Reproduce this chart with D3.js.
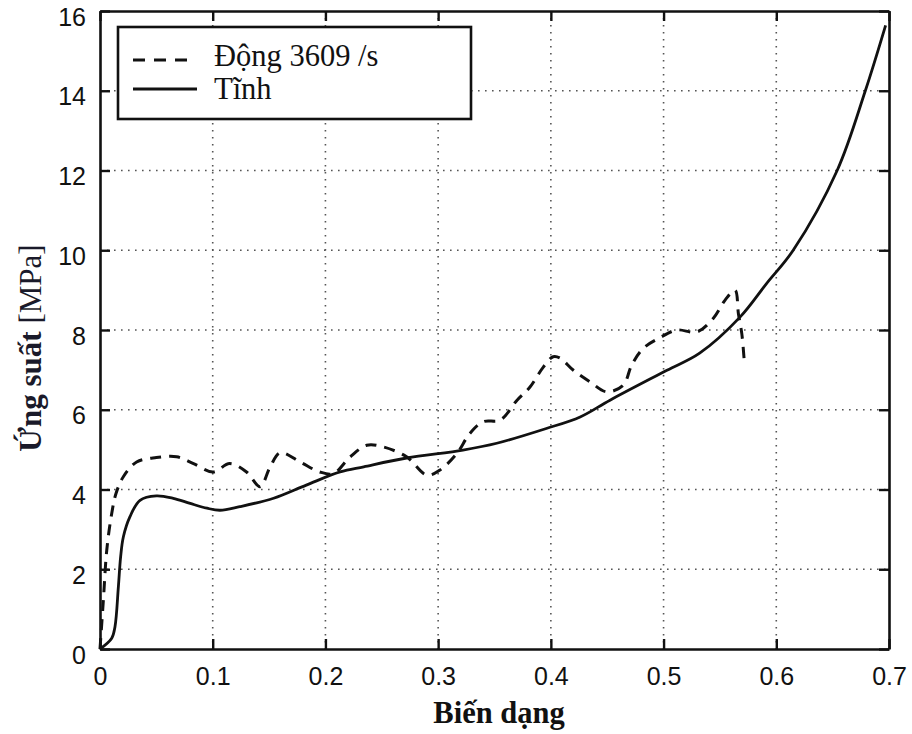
<!DOCTYPE html>
<html>
<head>
<meta charset="utf-8">
<script src="https://cdn.jsdelivr.net/npm/d3@7"></script>
<style>
  body { margin: 0; background: #fff; }
  #chart svg { display: block; }
  .tick text { font-family: "Liberation Sans", Arial, sans-serif; font-size: 25px; fill: #111; }
</style>
</head>
<body>
<div id="chart"></div>
<script>
// strain / stress
const staticStrain = [0, 0.0104, 0.0133, 0.0163, 0.0183, 0.0207, 0.0266, 0.0355, 0.05, 0.065, 0.08, 0.095, 0.1065, 0.124, 0.154, 0.183, 0.213, 0.234, 0.272, 0.322, 0.352, 0.396, 0.426, 0.4525, 0.503, 0.532, 0.568, 0.5915, 0.615, 0.654, 0.679, 0.697];
const staticStress = [0, 0.27, 0.56, 1.56, 2.31, 2.81, 3.32, 3.73, 3.84, 3.78, 3.65, 3.53, 3.48, 3.57, 3.78, 4.11, 4.44, 4.57, 4.79, 4.99, 5.16, 5.53, 5.82, 6.24, 6.99, 7.42, 8.33, 9.17, 10.0, 12.0, 14.0, 15.64];

const dynStrain = [0, 0.003, 0.006, 0.0104, 0.0142, 0.0207, 0.0325, 0.05, 0.068, 0.083, 0.1005, 0.115, 0.13, 0.142, 0.151, 0.16, 0.1775, 0.195, 0.207, 0.222, 0.2366, 0.251, 0.272, 0.29, 0.3017, 0.3165, 0.328, 0.34, 0.355, 0.37, 0.3815, 0.3933, 0.402, 0.408, 0.42, 0.4348, 0.4496, 0.4643, 0.4717, 0.482, 0.497, 0.5117, 0.5294, 0.544, 0.5546, 0.5634, 0.5664, 0.5694, 0.5714];
const dynStress = [0, 1.23, 2.48, 3.4, 3.9, 4.32, 4.69, 4.80, 4.82, 4.65, 4.44, 4.65, 4.44, 4.07, 4.57, 4.92, 4.69, 4.44, 4.4, 4.82, 5.11, 5.07, 4.82, 4.36, 4.49, 4.9, 5.4, 5.7, 5.74, 6.24, 6.57, 7.07, 7.33, 7.3, 6.99, 6.7, 6.45, 6.62, 7.12, 7.54, 7.81, 8.0, 7.95, 8.29, 8.75, 9.0, 8.41, 7.91, 7.29];

const xTicks = [0, 0.1, 0.2, 0.3, 0.4, 0.5, 0.6, 0.7];
const yTicks = [0, 2, 4, 6, 8, 10, 12, 14, 16];
const legendLabels = ["Động 3609 /s", "Tĩnh"];

const width = 912, height = 734;
const plotL = 100, plotR = 889, plotT = 11, plotB = 649;

const svg = d3.select("#chart").append("svg")
  .attr("width", width)
  .attr("height", height);

const x = d3.scaleLinear().domain([0, 0.7]).range([plotL, plotR]);
const y = d3.scaleLinear().domain([0, 16]).range([plotB, plotT]);

// dotted grid
const grid = svg.append("g")
  .attr("stroke", "#555")
  .attr("stroke-width", 1.6)
  .attr("stroke-dasharray", "1.6,5.4");
grid.selectAll("line.gx")
  .data(xTicks.slice(1, -1))
  .join("line")
  .attr("x1", d => x(d)).attr("x2", d => x(d))
  .attr("y1", plotT).attr("y2", plotB);
grid.selectAll("line.gy")
  .data(yTicks.slice(1, -1))
  .join("line")
  .attr("y1", d => y(d)).attr("y2", d => y(d))
  .attr("x1", plotL).attr("x2", plotR);

// axes, ticks pointing inwards on all four sides
const fmtX = d => d === 0 ? "0" : d3.format(".1f")(d);
svg.append("g")
  .attr("transform", `translate(0,${plotB})`)
  .call(d3.axisBottom(x).tickValues(xTicks).tickFormat(fmtX).tickSize(-10).tickSizeOuter(0).tickPadding(18));
svg.append("g")
  .attr("transform", `translate(0,${plotT})`)
  .call(d3.axisTop(x).tickValues(xTicks).tickFormat("").tickSize(-10).tickSizeOuter(0));
const yAxisG = svg.append("g")
  .attr("transform", `translate(${plotL},0)`)
  .call(d3.axisLeft(y).tickValues(yTicks).tickSize(-10).tickSizeOuter(0).tickPadding(14));
// labels sit a little below their ticks in the original
yAxisG.selectAll(".tick text").attr("dy", "0.56em");
svg.append("g")
  .attr("transform", `translate(${plotR},0)`)
  .call(d3.axisRight(y).tickValues(yTicks).tickFormat("").tickSize(-10).tickSizeOuter(0));

svg.selectAll(".domain").attr("stroke", "#111").attr("stroke-width", 2.6);
svg.selectAll(".tick line").attr("stroke", "#111").attr("stroke-width", 2.4);

// curves
const line = d3.line()
  .x(d => x(d[0]))
  .y(d => y(d[1]))
  .curve(d3.curveCatmullRom.alpha(0.5));

svg.append("path")
  .datum(d3.zip(staticStrain, staticStress))
  .attr("d", line)
  .attr("fill", "none")
  .attr("stroke", "#111")
  .attr("stroke-width", 2.8);

svg.append("path")
  .datum(d3.zip(dynStrain, dynStress))
  .attr("d", line)
  .attr("fill", "none")
  .attr("stroke", "#111")
  .attr("stroke-width", 3)
  .attr("stroke-dasharray", "11,8");

// legend
const lg = svg.append("g");
lg.append("rect")
  .attr("x", 118).attr("y", 27)
  .attr("width", 353).attr("height", 92)
  .attr("fill", "#fff")
  .attr("stroke", "#111")
  .attr("stroke-width", 2.6);
lg.append("line")
  .attr("x1", 133).attr("x2", 187).attr("y1", 60).attr("y2", 60)
  .attr("stroke", "#111").attr("stroke-width", 3)
  .attr("stroke-dasharray", "12,9");
lg.append("line")
  .attr("x1", 133).attr("x2", 197).attr("y1", 89).attr("y2", 89)
  .attr("stroke", "#111").attr("stroke-width", 3);
lg.selectAll("text")
  .data(legendLabels)
  .join("text")
  .attr("x", 214)
  .attr("y", (d, i) => 66 + i * 33)
  .attr("font-family", "'Liberation Serif', 'Times New Roman', serif")
  .attr("font-size", 30.5)
  .attr("fill", "#111")
  .text(d => d);

// axis titles
svg.append("text")
  .attr("x", 499)
  .attr("y", 723)
  .attr("text-anchor", "middle")
  .attr("font-family", "'Liberation Serif', 'Times New Roman', serif")
  .attr("font-weight", "bold")
  .attr("font-size", 30.5)
  .attr("fill", "#111")
  .text("Biến dạng");

const yt = svg.append("text")
  .attr("transform", "translate(41,348) rotate(-90)")
  .attr("text-anchor", "middle")
  .attr("font-family", "'Liberation Serif', 'Times New Roman', serif")
  .attr("font-size", 31)
  .attr("fill", "#1a1a2a");
yt.append("tspan").attr("font-weight", "bold").text("Ứng suất ");
yt.append("tspan").text("[MPa]");
</script>
</body>
</html>
